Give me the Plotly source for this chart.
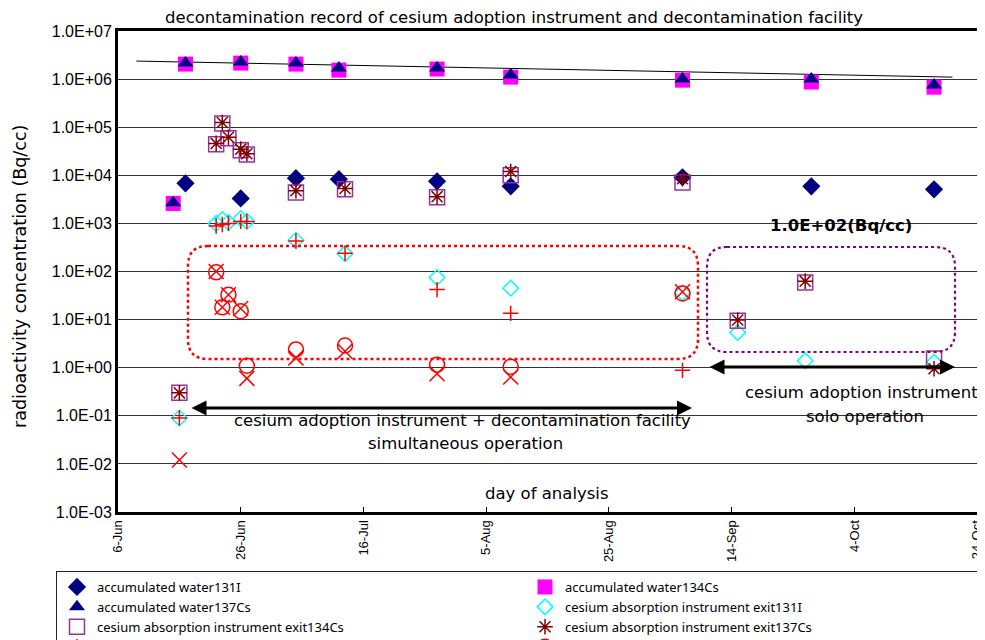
import plotly.graph_objects as go

# ---------------- data ----------------
acc_dates_131 = ["2011-06-17", "2011-06-26", "2011-07-05", "2011-07-12", "2011-07-28",
                 "2011-08-09", "2011-09-06", "2011-09-27", "2011-10-17"]
acc_131I = [6.8e3, 3.3e3, 8.7e3, 8.3e3, 7.5e3, 5.9e3, 9.1e3, 5.9e3, 5.1e3]

acc_dates_cs = ["2011-06-15", "2011-06-17", "2011-06-26", "2011-07-05", "2011-07-12",
                "2011-07-28", "2011-08-09", "2011-09-06", "2011-09-27", "2011-10-17"]
acc_134Cs = [2.6e3, 2.05e6, 2.15e6, 2.05e6, 1.54e6, 1.62e6, 1.1e6, 9.5e5, 8.7e5, 6.8e5]
acc_137Cs = [2.7e3, 2.15e6, 2.26e6, 2.15e6, 1.7e6, 1.7e6, 1.21e6, 1.0e6, 1.0e6, 7.5e5]

cs_dates = ["2011-06-16", "2011-06-22", "2011-06-23", "2011-06-24", "2011-06-26",
            "2011-06-27", "2011-07-05", "2011-07-13", "2011-07-28", "2011-08-09",
            "2011-09-06", "2011-09-15", "2011-09-26", "2011-10-17"]
cs_131I = [0.09, 1.0e3, 1.2e3, 1.05e3, 1.26e3, 1.1e3, 445, 235, 75, 45, 36, 5.4, 1.4, 1.3]
cs_134Cs = [0.3, 4.4e4, 1.2e5, 5.9e4, 3.3e4, 2.7e4, 4.4e3, 5.1e3, 3.5e3, 1.0e4, 7.1e3, 9.5, 59, 1.55]
cs_137Cs = [0.3, 4.6e4, 1.25e5, 6.2e4, 3.5e4, 2.8e4, 4.8e3, 5.3e3, 3.6e3, 1.2e4, 8.5e3, 9.8, 63, 0.95]

coag_dates_131 = ["2011-06-16", "2011-06-22", "2011-06-23", "2011-06-24", "2011-06-26",
                  "2011-06-27", "2011-07-05", "2011-07-13", "2011-07-28", "2011-08-09",
                  "2011-09-06"]
coag_131I = [0.09, 880, 950, 1.0e3, 1.1e3, 1.1e3, 430, 240, 42, 13.5, 0.88]

coag_dates_134 = ["2011-06-22", "2011-06-23", "2011-06-24", "2011-06-26", "2011-06-27",
                  "2011-07-05", "2011-07-13", "2011-07-28", "2011-08-09", "2011-09-06"]
coag_134Cs = [96, 18, 33, 15, 1.1, 2.4, 2.9, 1.15, 1.05, 35]

coag_dates_137 = ["2011-06-16", "2011-06-22", "2011-06-23", "2011-06-24", "2011-06-26",
                  "2011-06-27", "2011-07-05", "2011-07-13", "2011-07-28", "2011-08-09",
                  "2011-09-06"]
coag_137Cs = [0.012, 100, 18, 33, 17, 0.6, 1.6, 2.2, 0.75, 0.64, 38]

trend_dates = ["2011-06-09", "2011-10-20"]
trend_values = [2.37e6, 1.1e6]

y_tick_vals = [1e-3, 1e-2, 1e-1, 1e0, 1e1, 1e2, 1e3, 1e4, 1e5, 1e6, 1e7]
y_tick_text = ["1.0E-03", "1.0E-02", "1.0E-01", "1.0E+00", "1.0E+01", "1.0E+02",
               "1.0E+03", "1.0E+04", "1.0E+05", "1.0E+06", "1.0E+07"]

# ---------------- layout geometry (screen pixels) ----------------
W, H = 985, 640
OFF = 8                      # page body margin offset of the plot div
L, R, T, B = 118, 977, 31, 512
PW, PH = R - L, B - T

def px(x):
    return (x - L) / PW

def py(y):
    return (B - y) / PH

TXT = "DejaVu Sans"
LEG = "Noto Sans"
AR = "Liberation Sans"

fig = go.Figure()

series = [
    ("accumulated water131I", acc_dates_131, acc_131I,
     dict(symbol="diamond", size=14, color="#000080", line=dict(width=0))),
    ("accumulated water134Cs", acc_dates_cs, acc_134Cs,
     dict(symbol="square", size=15, color="#FF00FF", line=dict(width=0))),
    ("accumulated water137Cs", acc_dates_cs, acc_137Cs,
     dict(symbol="triangle-up", size=14, color="#000080", line=dict(width=0))),
    ("cesium absorption instrument exit131I", cs_dates, cs_131I,
     dict(symbol="diamond-open", size=12, color="#00FFFF", line=dict(width=1.5, color="#00FFFF"))),
    ("cesium absorption instrument exit134Cs", cs_dates, cs_134Cs,
     dict(symbol="square-open", size=15, color="#993399", line=dict(width=1.5, color="#993399"))),
    ("cesium absorption instrument exit137Cs", cs_dates, cs_137Cs,
     dict(symbol="asterisk-open", size=13, color="#800000", line=dict(width=1.5, color="#800000"))),
    ("coagulation decontamination facility exit131I", coag_dates_131, coag_131I,
     dict(symbol="cross-thin-open", size=11, color="#FF0000", line=dict(width=1.5, color="#FF0000"))),
    ("coagulation decontamination facility exit134Cs", coag_dates_134, coag_134Cs,
     dict(symbol="circle-open", size=15, color="#FF0000", line=dict(width=1.5, color="#FF0000"))),
    ("coagulation decontamination facility exit137Cs", coag_dates_137, coag_137Cs,
     dict(symbol="x-thin-open", size=15, color="#FF0000", line=dict(width=1.5, color="#FF0000"))),
]

fig.add_trace(go.Scatter(x=trend_dates, y=trend_values, mode="lines",
                         line=dict(color="black", width=1), showlegend=False,
                         hoverinfo="skip"))

for name, xs, ys, mk in series:
    fig.add_trace(go.Scatter(x=xs, y=ys, mode="markers", name=name, marker=mk))

def rounded_path(x0, y0, x1, y1, r):
    rx, ry = r / PW, r / PH
    X0, X1 = px(x0), px(x1)
    Yt, Yb = py(y0), py(y1)
    return (f"M {X0+rx},{Yt} L {X1-rx},{Yt} Q {X1},{Yt} {X1},{Yt-ry} "
            f"L {X1},{Yb+ry} Q {X1},{Yb} {X1-rx},{Yb} "
            f"L {X0+rx},{Yb} Q {X0},{Yb} {X0},{Yb+ry} "
            f"L {X0},{Yt-ry} Q {X0},{Yt} {X0+rx},{Yt} Z")

shapes = [
    dict(type="path", xref="paper", yref="paper",
         path=rounded_path(188, 246, 698, 359, 20),
         line=dict(color="#FF0000", width=2.5, dash="dot")),
    dict(type="path", xref="paper", yref="paper",
         path=rounded_path(707, 247, 955, 352, 20),
         line=dict(color="#800080", width=2.2, dash="dot")),
]

def label(text, x, y, size=16, family=TXT, angle=0):
    return dict(text=text, x=px(x), y=py(y), xref="paper", yref="paper",
                showarrow=False, xanchor="center", yanchor="middle", textangle=angle,
                font=dict(family=family, size=size, color="black"))

annotations = [
    label("decontamination record of cesium adoption instrument and decontamination facility", 514, 17, size=16.5),
    label("radioactivity concentration (Bq/cc)", 20, 277, size=17.5, angle=-90),
    label("<b>1.0E+02(Bq/cc)</b>", 841, 225, size=16.5),
    label("cesium adoption instrument + decontamination facility", 462, 420, size=16.5),
    label("simultaneous operation", 465, 443, size=16.5),
    label("cesium adoption instrument", 861, 393, size=16.5),
    label("solo operation", 865, 416, size=16.5),
    label("day of analysis", 547, 493, size=16.5),
    dict(text="", x=px(692), y=py(408), xref="paper", yref="paper", showarrow=True,
         ax=190 - 692, ay=0, axref="pixel", ayref="pixel", arrowside="end+start",
         arrowhead=2, arrowsize=1, arrowwidth=3, arrowcolor="black",
         standoff=0, startstandoff=0),
    dict(text="", x=px(955), y=py(367), xref="paper", yref="paper", showarrow=True,
         ax=708 - 955, ay=0, axref="pixel", ayref="pixel", arrowside="end+start",
         arrowhead=2, arrowsize=1, arrowwidth=3, arrowcolor="black",
         standoff=0, startstandoff=0),
]

fig.update_layout(
    width=W, height=H,
    margin=dict(l=L - OFF, r=W - (R - OFF), t=T - OFF, b=H - (B - OFF), autoexpand=False),
    paper_bgcolor="white", plot_bgcolor="white",
    shapes=shapes, annotations=annotations,
    showlegend=True,
    legend=dict(orientation="h", x=px(56), xanchor="left", y=py(571), yanchor="top",
                xref="paper", yref="paper",
                entrywidth=423, entrywidthmode="pixels",
                bordercolor="#222222", borderwidth=1, bgcolor="white",
                font=dict(family=LEG, size=13, color="black"),
                traceorder="normal"),
    xaxis=dict(type="date", range=["2011-06-06", "2011-10-24"],
               tick0="2011-06-06", dtick=20 * 86400000, tickformat="%-d-%b",
               tickangle=-90, ticks="inside", ticklen=5, tickcolor="black",
               showgrid=False, showline=True, mirror=True, linewidth=3, linecolor="black",
               tickfont=dict(family=AR, size=13, color="black"), zeroline=False),
    yaxis=dict(type="log", range=[-3, 7], tickvals=y_tick_vals, ticktext=y_tick_text,
               showgrid=True, gridcolor="#333333", gridwidth=1, ticks="",
               showline=True, mirror=True, linewidth=3, linecolor="black",
               tickfont=dict(family=AR, size=16, color="black"), zeroline=False),
)

fig.write_html("out.html")
